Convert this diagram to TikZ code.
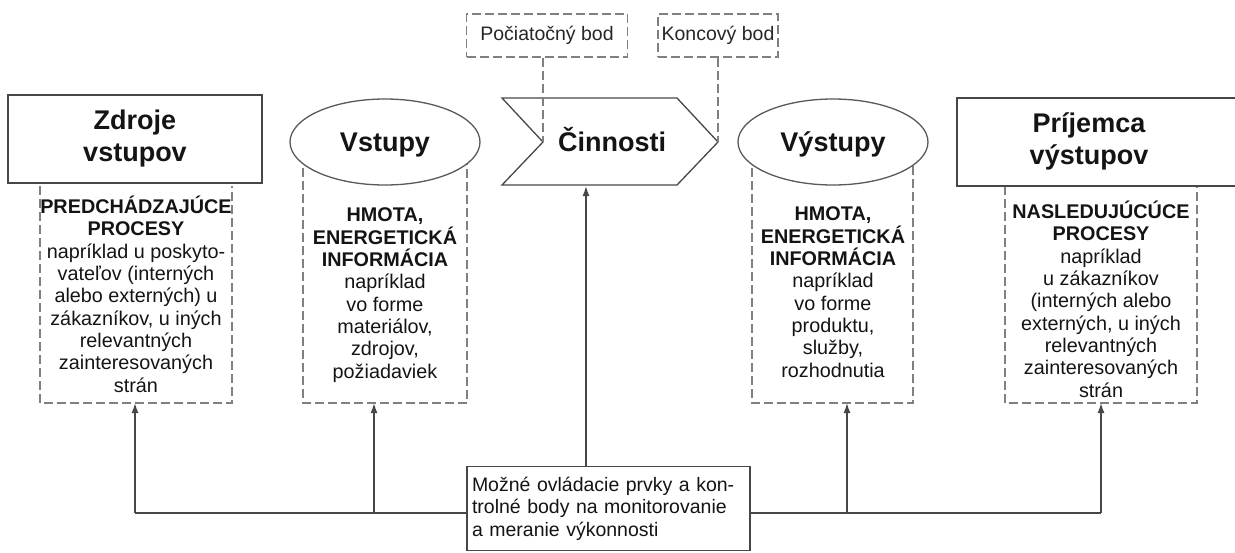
\documentclass[tikz,border=0pt]{standalone}
\usepackage{fontspec}
\setmainfont{Liberation Sans}
\usetikzlibrary{shapes.geometric,arrows.meta}
\begin{document}
\begin{tikzpicture}[x=1pt,y=-1pt,
  solidln/.style={draw=black!72, line width=1.5pt},
  dashln/.style={draw=black!50, line width=1.6pt, dash pattern=on 9pt off 4pt},
  head/.style={font=\fontsize{27}{32}\selectfont\bfseries, align=center, text=black!92},
  hbox/.style={solidln, fill=white, minimum width=254pt, minimum height=88pt, inner sep=0pt, head},
  oval/.style={ellipse, draw=black!65, line width=1.3pt, fill=white, minimum width=190pt, minimum height=86pt, inner sep=0pt, head, text height=19.5pt, text depth=0pt},
  body/.style={font=\fontsize{19.8}{22.3}\selectfont, align=center, inner sep=0pt, anchor=base, text=black!92},
  tag/.style={dashln, font=\fontsize{19.5}{22}\selectfont, inner sep=0pt, minimum height=43pt, text=black!85},
  ctl/.style={draw=black!72, line width=1.4pt},
  arr/.style={ctl, -{Latex[length=10pt,width=7pt]}},
]
\useasboundingbox (0,0) rectangle (1235,552);

% dashed frames below the headings
\draw[dashln] (40,186) -- (40,403) -- (232,403) -- (232,186);
\draw[dashln] (303,142) -- (303,403) -- (467,403) -- (467,142);
\draw[dashln] (752,142) -- (752,403) -- (913,403) -- (913,142);
\draw[dashln] (1005,186) -- (1005,403) -- (1197,403) -- (1197,186);

% headings
\node[hbox] (zdroje) at (135,139) {Zdroje\\vstupov};
\node[oval] (vstupy) at (385,142) {Vstupy};
\node[oval] (vystupy) at (833,142) {Výstupy};
\draw[solidln, fill=white] (1245,98) -- (957,98) -- (957,186) -- (1245,186);
\node[head, inner sep=0pt] (prij) at (1089,141.6) {Príjemca\\výstupov};

% activity chevron
\coordinate (notch) at (543,142);
\coordinate (tip) at (718,142);
\draw[solidln, line width=1.3pt, fill=white] (502,98) -- (677,98) -- (tip) -- (677,185) -- (502,185) -- (notch) -- cycle;
\node[head, inner sep=0pt, text height=19.5pt, text depth=0pt] (act) at (612,142) {Činnosti};

% start / end point tags
\node[tag, minimum width=161pt] (start) at (547,35.5) {Počiatočný bod};
\node[tag, minimum width=120pt] (end) at (718,35.5) {Koncový bod};
\draw[dashln] (notch |- start.south) -- (notch);
\draw[dashln] (tip |- end.south) -- (tip);

% body texts (base anchor = baseline of the last line)
\node[body] (zdT) at (136,392) {\textbf{PREDCHÁDZAJÚCE}\\\textbf{PROCESY}\\napríklad u poskyto-\\vateľov (interných\\alebo externých) u\\zákazníkov, u iných\\relevantných\\zainteresovaných\\strán};
\node[body] (vsT) at (385,378) {\textbf{HMOTA,}\\\textbf{ENERGETICKÁ}\\\textbf{INFORMÁCIA}\\napríklad\\vo forme\\materiálov,\\zdrojov,\\požiadaviek};
\node[body] (vyT) at (833,377) {\textbf{HMOTA,}\\\textbf{ENERGETICKÁ}\\\textbf{INFORMÁCIA}\\napríklad\\vo forme\\produktu,\\služby,\\rozhodnutia};
\node[body] (prT) at (1101,397) {\textbf{NASLEDUJÚCÚCE}\\\textbf{PROCESY}\\napríklad\\u zákazníkov\\(interných alebo\\externých, u iných\\relevantných\\zainteresovaných\\strán};

% control box and arrows
\coordinate (a1) at (135,403);
\coordinate (a2) at (374,403);
\coordinate (a3) at (586,186);
\coordinate (a4) at (847,403);
\coordinate (a5) at (1101,403);
\coordinate (bus) at (0,513);
\draw[ctl] (a1 |- bus) -- (a5 |- bus);
\node[ctl, fill=white, minimum width=283pt, minimum height=84pt, inner sep=5pt, text width=273pt, align=left,
  font=\fontsize{19.5}{22.5}\selectfont, text=black!92] (ctrl) at (608.5,508.5)
  {Možné ovládacie prvky a kon-\\trolné body na monitorovanie\\a meranie výkonnosti};
\draw[arr] (a1 |- bus) -- (a1);
\draw[arr] (a2 |- bus) -- (a2);
\draw[arr] (a4 |- bus) -- (a4);
\draw[arr] (a5 |- bus) -- (a5);
\draw[arr] (a3 |- ctrl.north) -- (a3);
\end{tikzpicture}
\end{document}
